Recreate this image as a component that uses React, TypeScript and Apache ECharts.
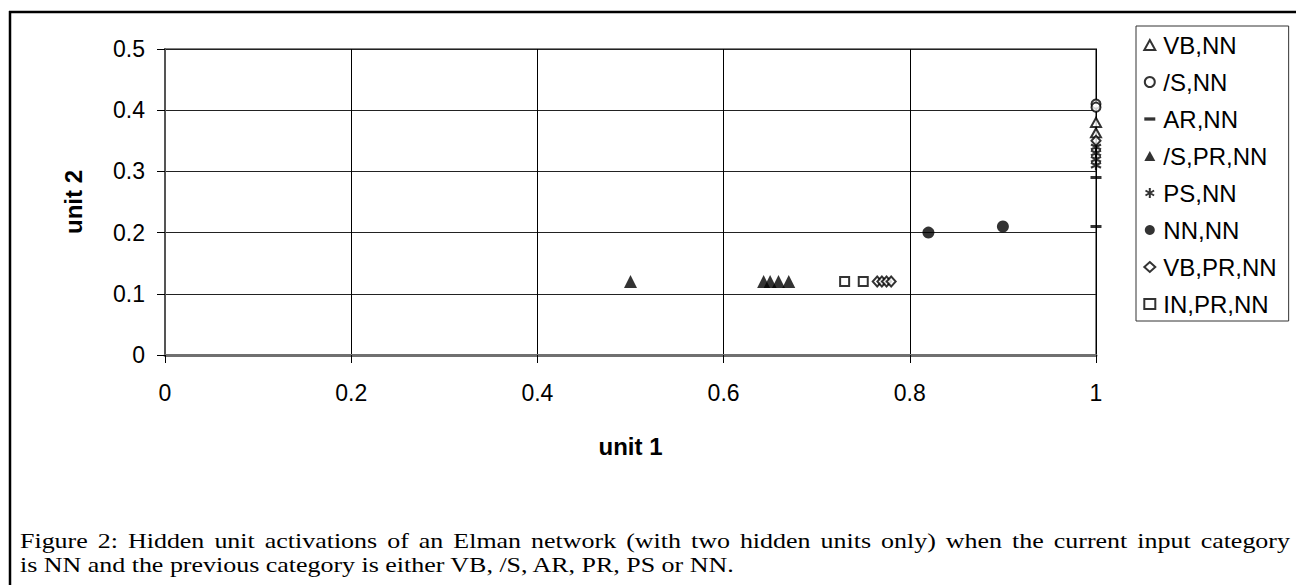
import React, { useEffect, useRef } from "react";
import * as echarts from "echarts";

const xTicks = [0, 0.2, 0.4, 0.6, 0.8, 1];
const yTicks = [0, 0.1, 0.2, 0.3, 0.4, 0.5];

const seriesNames = ["VB,NN", "/S,NN", "AR,NN", "/S,PR,NN", "PS,NN", "NN,NN", "VB,PR,NN", "IN,PR,NN"];

const vbNN = [[1, 0.38], [1, 0.363]];
const sNN = [[1, 0.41], [1, 0.405]];
const arNN = [[1, 0.29], [1, 0.21]];
const sPrNN = [[0.5, 0.12], [0.643, 0.12], [0.65, 0.12], [0.659, 0.12], [0.67, 0.12]];
const psNN = [[1, 0.34], [1, 0.33], [1, 0.32], [1, 0.31]];
const nnNN = [[0.82, 0.2], [0.9, 0.21]];
const vbPrNN = [[0.765, 0.12], [0.77, 0.12], [0.775, 0.12], [0.78, 0.12], [1, 0.35]];
const inPrNN = [[0.73, 0.12], [0.75, 0.12]];

const captionLine1 =
  "Figure 2: Hidden unit activations of an Elman network (with two hidden units only) when the current input category";
const captionLine2 = "is NN and the previous category is either VB, /S, AR, PR, PS or NN.";

const SANS = '"Liberation Sans", Arial, sans-serif';
const SERIF = '"Liberation Serif", "Times New Roman", serif';

const DASH = "path://M0,0 H10 V3 H0 Z";
const STAR = "path://M5,0 L5,10 M0.7,2.5 L9.3,7.5 M0.7,7.5 L9.3,2.5";

export default function App() {
  const ref = useRef<HTMLDivElement>(null);
  useEffect(() => {
    if (!ref.current) return;
    const chart = echarts.init(ref.current, undefined, { renderer: "svg" });

    // caption (justified first line)
    const capSize = 22;
    const capScale = 1.18;
    const canvas = document.createElement("canvas");
    const ctx = canvas.getContext("2d")!;
    ctx.font = `${capSize}px "Liberation Serif"`;
    const words = captionLine1.split(" ");
    const widths = words.map((w) => ctx.measureText(w).width * capScale);
    const total = widths.reduce((a, b) => a + b, 0);
    const left = 20;
    const right = 1290;
    const gap = (right - left - total) / (words.length - 1);
    let cx = left;
    const wordEls: any[] = words.map((w, i) => {
      const el = {
        type: "text",
        x: cx,
        y: 541,
        scaleX: capScale,
        style: { text: w, font: `${capSize}px ${SERIF}`, fill: "#000", verticalAlign: "middle", align: "left" },
      };
      cx += widths[i] + gap;
      return el;
    });

    const open = { color: "#fff", borderColor: "#000", borderWidth: 2 };
    const filled = { color: "#000" };
    const labelFont = 23;

    const option: any = {
      animation: false,
      grid: {
        left: 165,
        right: 200,
        top: 49,
        bottom: 230,
        show: true,
        borderColor: "#808080",
        borderWidth: 2,
        backgroundColor: "transparent",
      },
      xAxis: {
        type: "value",
        min: 0,
        max: 1,
        interval: 0.2,
        name: "unit 1",
        nameLocation: "middle",
        nameGap: 79,
        nameTextStyle: { fontFamily: SANS, fontSize: 24, fontWeight: "bold", color: "#000" },
        axisLine: { show: true, onZero: false, lineStyle: { color: "#707070", width: 3 } },
        axisTick: { show: true, length: 8, lineStyle: { color: "#000", width: 1 } },
        axisLabel: {
          margin: 26,
          fontFamily: SANS,
          fontSize: labelFont,
          color: "#000",
          formatter: (v: number) => String(xTicks.find((t) => Math.abs(t - v) < 1e-9) ?? v),
        },
        splitLine: { show: true, lineStyle: { color: "#000", width: 1 } },
      },
      yAxis: {
        type: "value",
        min: 0,
        max: 0.5,
        interval: 0.1,
        name: "unit 2",
        nameLocation: "middle",
        nameGap: 80,
        nameRotate: 90,
        nameTextStyle: { fontFamily: SANS, fontSize: 24, fontWeight: "bold", color: "#000" },
        axisLine: { show: true, onZero: false, lineStyle: { color: "#555", width: 2 } },
        axisTick: { show: true, length: 8, lineStyle: { color: "#000", width: 1 } },
        axisLabel: {
          margin: 20,
          fontFamily: SANS,
          fontSize: labelFont,
          color: "#000",
          formatter: (v: number) => String(yTicks.find((t) => Math.abs(t - v) < 1e-9) ?? v),
        },
        splitLine: { show: true, lineStyle: { color: "#222", width: 1 } },
      },
      legend: {
        orient: "vertical",
        left: 1136,
        top: 26,
        padding: [7, 12, 5, 7],
        borderColor: "#333",
        borderWidth: 1,
        backgroundColor: "#fff",
        itemWidth: 11,
        itemHeight: 10,
        itemGap: 13,
        textStyle: { fontFamily: SANS, fontSize: 24, color: "#000", lineHeight: 24, padding: [0, 0, 0, 3] },
        data: seriesNames,
      },
      series: [
        { name: seriesNames[0], type: "scatter", data: vbNN, symbol: "triangle", symbolSize: [10, 9], itemStyle: open },
        { name: seriesNames[1], type: "scatter", data: sNN, symbol: "circle", symbolSize: 9, itemStyle: open },
        { name: seriesNames[2], type: "scatter", data: arNN, symbol: DASH, symbolSize: [11, 3], itemStyle: filled },
        { name: seriesNames[3], type: "scatter", data: sPrNN, symbol: "triangle", symbolSize: [13, 13], itemStyle: filled },
        {
          name: seriesNames[4],
          type: "scatter",
          data: psNN,
          symbol: STAR,
          symbolSize: 10,
          itemStyle: { color: "none", borderColor: "#000", borderWidth: 2.2 },
        },
        { name: seriesNames[5], type: "scatter", data: nnNN, symbol: "circle", symbolSize: 12, itemStyle: filled },
        { name: seriesNames[6], type: "scatter", data: vbPrNN, symbol: "diamond", symbolSize: [9, 10], itemStyle: open },
        { name: seriesNames[7], type: "scatter", data: inPrNN, symbol: "rect", symbolSize: 9, itemStyle: open },
      ],
      graphic: [
        { type: "line", shape: { x1: 9, y1: 12, x2: 1296, y2: 12 }, style: { stroke: "#000", lineWidth: 2.5 } },
        { type: "line", shape: { x1: 10, y1: 11, x2: 10, y2: 585 }, style: { stroke: "#000", lineWidth: 2.5 } },
        ...wordEls,
        {
          type: "text",
          x: 20,
          y: 565,
          scaleX: capScale,
          style: { text: captionLine2, font: `${capSize}px ${SERIF}`, fill: "#000", verticalAlign: "middle", align: "left" },
        },
      ],
    };
    chart.setOption(option);
    return () => chart.dispose();
  }, []);
  return <div ref={ref} style={{ position: "fixed", left: 0, top: 0, width: 1296, height: 585, background: "#fff" }} />;
}
